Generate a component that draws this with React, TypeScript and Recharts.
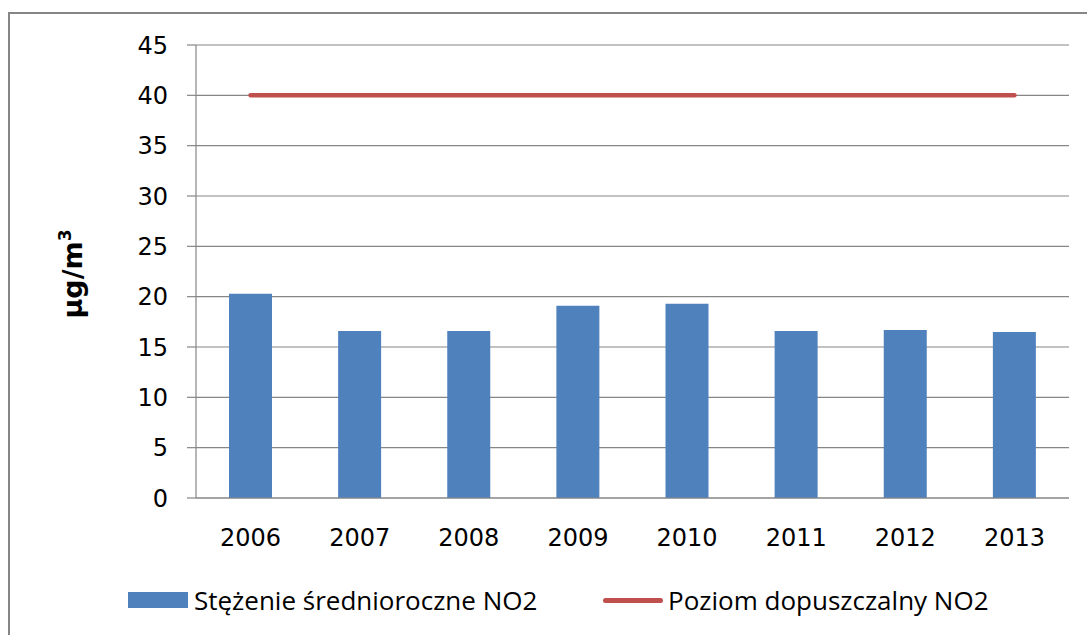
import React from 'react';
import { ComposedChart, Bar, Line, XAxis, YAxis, CartesianGrid } from 'recharts';

const years = ['2006', '2007', '2008', '2009', '2010', '2011', '2012', '2013'];
const concentration = [20.3, 16.6, 16.6, 19.1, 19.3, 16.6, 16.7, 16.5];
const limitLevel = [40, 40, 40, 40, 40, 40, 40, 40];
const yTicks = [0, 5, 10, 15, 20, 25, 30, 35, 40, 45];
const boundaryTicks = [0, 1, 2, 3, 4, 5, 6, 7, 8];
const seriesNames = ['Stężenie średnioroczne NO2', 'Poziom dopuszczalny NO2'];
const unitBase = 'µg/m';
const unitExp = '3';

const data = years.map((y, i) => ({ year: y, conc: concentration[i], limit: limitLevel[i] }));

const GRAY = '#868686';
const BLUE = '#4F81BD';
const RED = '#C0504D';
const tickFont = { fontSize: 24, fontFamily: '"DejaVu Sans", sans-serif', fill: '#000' };

export default function App() {
  return (
    <div style={{ position: 'absolute', left: 0, top: 0, width: 1087, height: 635, overflow: 'hidden', background: '#fff' }}>
      <div style={{ position: 'absolute', left: 8, top: 12, width: 1200, height: 800, borderTop: `2px solid ${GRAY}`, borderLeft: `2px solid ${GRAY}` }} />
      <div style={{ position: 'absolute', left: 0, top: 0 }}>
        <ComposedChart width={1087} height={635} data={data} margin={{ top: 45, right: 18, bottom: 0, left: 136 }}>
          <CartesianGrid vertical={false} stroke={GRAY} strokeWidth={1.2} />
          <XAxis
            xAxisId="b"
            type="number"
            domain={[0, 8]}
            ticks={boundaryTicks}
            height={0}
            tick={false}
            tickSize={9}
            axisLine={false}
            tickLine={{ stroke: GRAY, strokeWidth: 1.2 }}
          />
          <XAxis
            dataKey="year"
            height={137}
            tickLine={false}
            tickSize={9}
            tickMargin={22}
            axisLine={{ stroke: GRAY, strokeWidth: 1.2 }}
            tick={tickFont}
            interval={0}
          />
          <YAxis
            domain={[0, 45]}
            ticks={yTicks}
            width={60}
            tickSize={9}
            tickMargin={19}
            axisLine={{ stroke: GRAY, strokeWidth: 1.2 }}
            tickLine={{ stroke: GRAY, strokeWidth: 1.2 }}
            tick={tickFont}
            interval={0}
          />
          <Bar dataKey="conc" name={seriesNames[0]} fill={BLUE} barSize={43} isAnimationActive={false} />
          <Line dataKey="limit" name={seriesNames[1]} stroke={RED} strokeWidth={4.5} strokeLinecap="round" dot={false} activeDot={false} isAnimationActive={false} />
        </ComposedChart>
      </div>
      <div
        style={{
          position: 'absolute',
          left: 72,
          top: 274,
          transform: 'translate(-50%, -50%) rotate(-90deg)',
          fontFamily: '"DejaVu Sans", sans-serif',
          fontWeight: 'bold',
          fontSize: 27,
          whiteSpace: 'nowrap',
          color: '#000',
          lineHeight: 1,
        }}
      >
        {unitBase}
        <span style={{ fontSize: 17, position: 'relative', top: -11 }}>{unitExp}</span>
      </div>
      <div style={{ position: 'absolute', left: 128, top: 592, width: 60, height: 16, background: BLUE }} />
      <div style={{ position: 'absolute', left: 194, top: 600, transform: 'translateY(-50%)', fontFamily: '"Open Sans", sans-serif', fontSize: 26, whiteSpace: 'nowrap', color: '#000' }}>
        {seriesNames[0]}
      </div>
      <div style={{ position: 'absolute', left: 603, top: 598, width: 60, height: 5, borderRadius: 3, background: RED }} />
      <div style={{ position: 'absolute', left: 668, top: 600, transform: 'translateY(-50%)', fontFamily: '"Open Sans", sans-serif', fontSize: 26, whiteSpace: 'nowrap', color: '#000' }}>
        {seriesNames[1]}
      </div>
    </div>
  );
}
